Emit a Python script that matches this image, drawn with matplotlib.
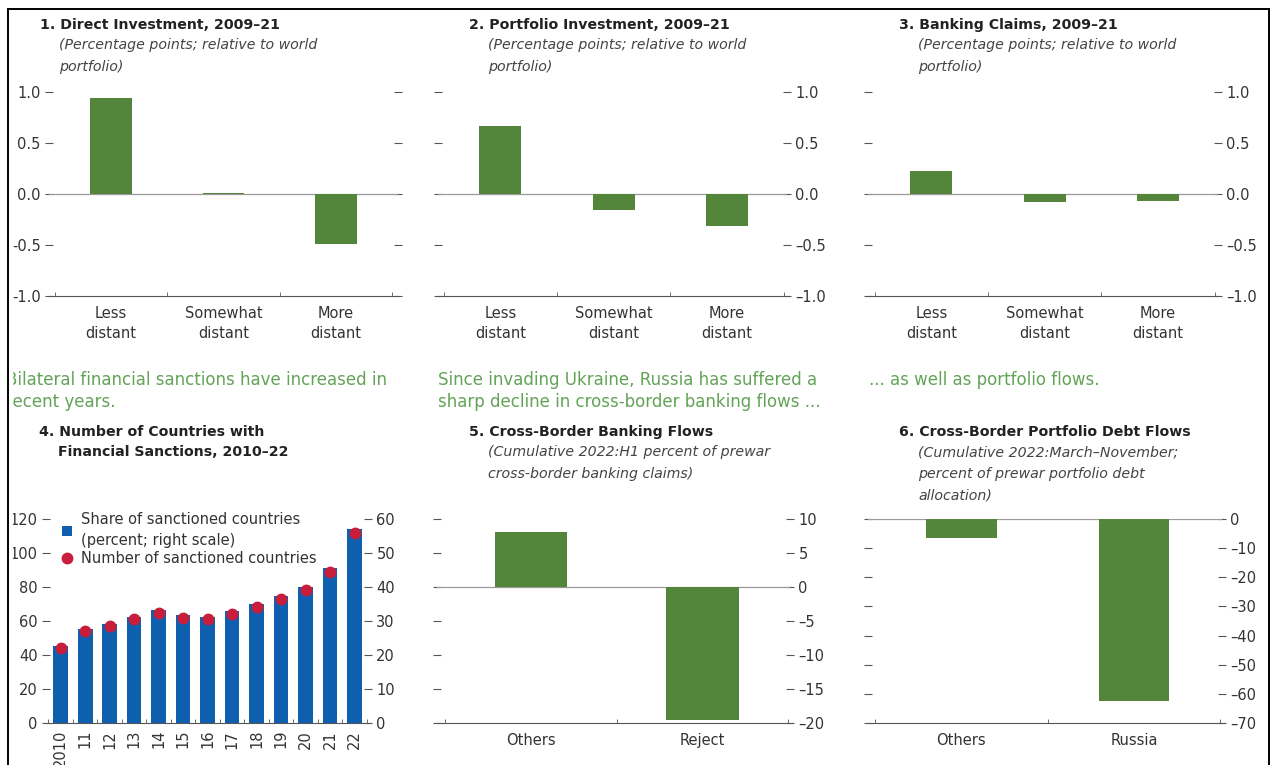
import matplotlib.pyplot as plt
from matplotlib.lines import Line2D
from matplotlib.patches import Rectangle
import numpy as np

W, H = 1272, 765

plt.rcParams['font.family'] = 'DejaVu Sans'
plt.rcParams['font.size'] = 10.5
plt.rcParams['text.color'] = '#222222'

GREEN = '#53853a'
BLUE = '#0f5faf'
RED = '#c81e3c'
HEAD = '#62a357'
TICK = '#555555'
LABEL = '#333333'

# Panels 1-3: percentage points relative to world portfolio
distance_cats = ['Less\ndistant', 'Somewhat\ndistant', 'More\ndistant']
direct_inv = [0.94, 0.005, -0.49]
portfolio_inv = [0.67, -0.155, -0.31]
banking_claims = [0.23, -0.075, -0.065]
top_ticks = [-1.0, -0.5, 0.0, 0.5, 1.0]

# Panel 4: countries with financial sanctions
years = ['2010', '11', '12', '13', '14', '15', '16', '17', '18', '19', '20', '21', '22']
share_sanctioned = [22.6, 27.7, 29.2, 31.3, 33.3, 31.8, 31.3, 32.8, 34.9, 37.4, 40.0, 45.6, 57.2]
num_sanctioned = [44, 54, 57, 61, 65, 62, 61, 64, 68, 73, 78, 89, 112]

# Panel 5: cross-border banking flows
bank_cats = ['Others', 'Reject']
bank_flows = [8.1, -19.5]
bank_ticks = [-20, -15, -10, -5, 0, 5, 10]

# Panel 6: cross-border portfolio debt flows
debt_cats = ['Others', 'Russia']
debt_flows = [-6.4, -62.5]
debt_ticks = [-70, -60, -50, -40, -30, -20, -10, 0]

fig = plt.figure(figsize=(W / 100, H / 100), dpi=100)


def px_axes(l, t, r, b):
    # axes placed by pixel box (left, top, right, bottom)
    return fig.add_axes([l / W, 1 - b / H, (r - l) / W, (b - t) / H])


def ftext(x, y, s, **kw):
    return fig.text(x / W, 1 - y / H, s, **kw)


def style_axes(ax, side):
    for s in ['top', 'left', 'right']:
        ax.spines[s].set_visible(False)
    ax.spines['bottom'].set_color(TICK)
    ax.tick_params(axis='y', which='both', left=True, right=True, direction='inout',
                   length=6, color=TICK, labelcolor=LABEL, pad=3,
                   labelleft=(side == 'left'), labelright=(side == 'right'))
    ax.tick_params(axis='x', which='major', length=0, pad=7, labelcolor=LABEL)
    ax.tick_params(axis='x', which='minor', direction='in', length=3, color=TICK)


def bar_panel(ax, cats, vals, width, xlim, ylim, ticks, dash, side):
    x = np.arange(len(cats))
    ax.bar(x, vals, width=width, color=GREEN, zorder=3)
    ax.axhline(0, color='#9a9a9a', lw=0.9, zorder=2)
    ax.set_xlim(*xlim)
    ax.set_ylim(*ylim)
    ax.set_xticks(x)
    ax.set_xticklabels(cats, linespacing=1.45)
    ax.set_xticks(np.arange(-0.5, len(cats), 1), minor=True)
    ax.set_yticks(ticks)
    fmt = '{:.1f}' if isinstance(ticks[0], float) else '{:d}'
    ax.set_yticklabels([fmt.format(t).replace('-', dash) for t in ticks])
    style_axes(ax, side)


def panel_title(x, y, title, sub=None):
    # hanging indent: continuation lines line up after the panel number
    lines = title.split('\n')
    ftext(x, y, lines[0], fontweight='bold', fontsize=10.2, va='center')
    for i, line in enumerate(lines[1:]):
        ftext(x + 19, y + 20 * (i + 1), line, fontweight='bold', fontsize=10.2, va='center')
    if sub:
        ftext(x + 19, y + 13, sub, style='italic', fontsize=10.2, color='#444444',
              va='top', linespacing=1.7)


# ---- top row ----
ax1 = px_axes(49, 92, 398, 296)
bar_panel(ax1, distance_cats, direct_inv, 0.37, (-0.55, 2.55), (-1, 1), top_ticks, '-', 'left')
ax2 = px_axes(438, 92, 787, 296)
bar_panel(ax2, distance_cats, portfolio_inv, 0.37, (-0.55, 2.53), (-1, 1), top_ticks, '–', 'right')
ax3 = px_axes(868, 92, 1218, 296)
bar_panel(ax3, distance_cats, banking_claims, 0.37, (-0.56, 2.53), (-1, 1), top_ticks, '–', 'right')

sub_world = '(Percentage points; relative to world\nportfolio)'
panel_title(40, 25, '1. Direct Investment, 2009–21', sub_world)
panel_title(469, 25, '2. Portfolio Investment, 2009–21', sub_world)
panel_title(899, 25, '3. Banking Claims, 2009–21', sub_world)

# ---- headlines ----
ftext(6, 391, 'Bilateral financial sanctions have increased in\nrecent years.',
      color=HEAD, fontsize=12, va='center', linespacing=1.25)
ftext(438, 391, 'Since invading Ukraine, Russia has suffered a\nsharp decline in cross-border banking flows ...',
      color=HEAD, fontsize=12, va='center', linespacing=1.25)
ftext(869, 380, '... as well as portfolio flows.', color=HEAD, fontsize=12, va='center')

# ---- panel 4 ----
ax4 = px_axes(46, 519, 368, 723)
ax4r = ax4.twinx()
x4 = np.arange(len(years))
bars = ax4r.bar(x4, share_sanctioned, width=0.6, color=BLUE)
dots, = ax4.plot(x4, num_sanctioned, 'o', color=RED, ms=7.5, zorder=5)
ax4.set_zorder(ax4r.get_zorder() + 1)
ax4.patch.set_visible(False)
ax4.set_xlim(-0.6, 12.55)
ax4.set_ylim(0, 120)
ax4r.set_ylim(0, 60)
ax4.set_yticks(range(0, 121, 20))
ax4r.set_yticks(range(0, 61, 10))
ax4.set_xticks(x4)
ax4.set_xticklabels(years, rotation=90, va='top')
ax4.set_xticks(np.arange(-0.5, len(years), 1), minor=True)
style_axes(ax4, 'left')
ax4.tick_params(axis='y', right=False)
ax4.tick_params(axis='x', which='major', pad=5)
for s in ax4r.spines.values():
    s.set_visible(False)
ax4r.tick_params(axis='y', direction='inout', length=6, color=TICK, labelcolor=LABEL, pad=3)
leg = ax4.legend([bars, dots], ['Share of sanctioned countries\n(percent; right scale)',
                                'Number of sanctioned countries'],
                 loc='upper left', bbox_to_anchor=(0.05, 1.035), frameon=False,
                 borderpad=0, borderaxespad=0, handlelength=0.7, handleheight=0.7,
                 handletextpad=0.6, labelspacing=0.2, fontsize=10.5)
for t in leg.get_texts():
    t.set_linespacing(1.5)
    t.set_color(LABEL)

panel_title(39, 432, '4. Number of Countries with\nFinancial Sanctions, 2010–22')

# ---- panel 5 ----
ax5 = px_axes(437, 519, 790, 723)
bar_panel(ax5, bank_cats, bank_flows, 0.42, (-0.547, 1.51), (-20, 10), bank_ticks, '–', 'right')
panel_title(469, 432, '5. Cross-Border Banking Flows',
            '(Cumulative 2022:H1 percent of prewar\ncross-border banking claims)')

# ---- panel 6 ----
ax6 = px_axes(868, 519, 1222, 723)
bar_panel(ax6, debt_cats, debt_flows, 0.41, (-0.54, 1.51), (-70, 0), debt_ticks, '–', 'right')
panel_title(899, 432, '6. Cross-Border Portfolio Debt Flows',
            '(Cumulative 2022:March–November;\npercent of prewar portfolio debt\nallocation)')

# ---- crop mask and frame ----
fig.add_artist(Rectangle((0, 0), 12 / W, 1, transform=fig.transFigure,
                         color='white', zorder=10))
fig.add_artist(Rectangle((1268 / W, 0), 1, 1, transform=fig.transFigure,
                         color='white', zorder=10))
frame_kw = dict(color='black', lw=1.4, transform=fig.transFigure, zorder=11)
fig.add_artist(Line2D([8 / W, 8 / W], [0, 1 - 9 / H], **frame_kw))
fig.add_artist(Line2D([1269 / W, 1269 / W], [0, 1 - 9 / H], **frame_kw))
fig.add_artist(Line2D([8 / W, 1269 / W], [1 - 9 / H, 1 - 9 / H], **frame_kw))

fig.savefig('out.png', dpi=100)
